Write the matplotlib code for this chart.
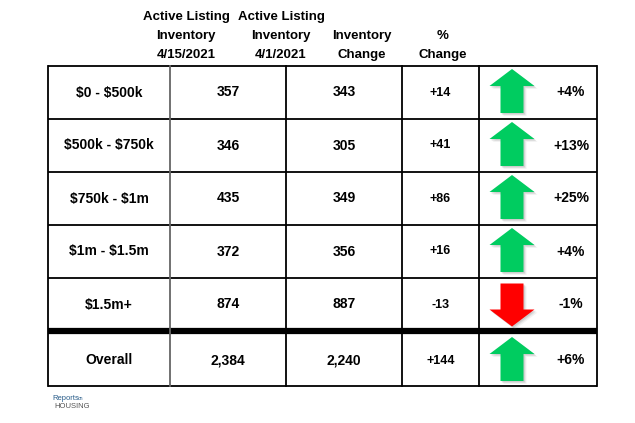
import matplotlib
matplotlib.use("Agg")
import matplotlib.pyplot as plt
from matplotlib.patches import Polygon

categories = ["$0 - $500k", "$500k - $750k", "$750k - $1m", "$1m - $1.5m", "$1.5m+", "Overall"]
inv_0415 = ["357", "346", "435", "372", "874", "2,384"]
inv_0401 = ["343", "305", "349", "356", "887", "2,240"]
inv_change = [14, 41, 86, 16, -13, 144]
pct_change = [4, 13, 25, 4, -1, 6]
headers = ["Active Listing\nInventory\n4/15/2021", "Active Listing\nInventory\n4/1/2021",
           "Inventory\nChange", "%\nChange"]

plt.rcParams['font.family'] = ['Liberation Sans', 'DejaVu Sans']
plt.rcParams['text.usetex'] = False
plt.rcParams['text.parse_math'] = False

W, H = 635, 423
fig = plt.figure(figsize=(W / 100, H / 100), dpi=100)
ax = fig.add_axes([0, 0, 1, 1])
ax.set_xlim(0, W)
ax.set_ylim(H, 0)
ax.axis('off')

col_x = [48, 170, 286, 402, 479, 597]
row_y = [66, 119, 172, 225, 278, 331, 386]

# headers
hdr_x = [186, 281, 362, 443]
for hx, h in zip(hdr_x, headers):
    lines = h.split("\n")
    ys = [17, 36, 55][3 - len(lines):]
    for yy, t in zip(ys, lines):
        ax.text(hx, yy, t, ha='center', va='center', fontsize=9.5, fontweight='bold')

# grid lines
for i, y in enumerate(row_y):
    lw = 1.3
    if i == 5:
        lw = 4.5
    ax.plot([col_x[0], col_x[-1]], [y, y], color='black', lw=lw, solid_capstyle='butt', zorder=3)
for j, x in enumerate(col_x):
    color = '#666666' if j == 1 else 'black'
    ax.plot([x, x], [row_y[0], row_y[-1]], color=color, lw=1.3, zorder=3)

green = '#00CC60'
red = '#FF0000'

def arrow(cx, cy, up, color):
    hw, sw = 22.5, 11.5
    if up:
        top, hb, bot = cy - 23.5, cy - 6.5, cy + 20.5
        pts = [(cx, top), (cx + hw, hb), (cx + sw, hb), (cx + sw, bot),
               (cx - sw, bot), (cx - sw, hb), (cx - hw, hb)]
    else:
        top, hb, bot = cy - 21, cy + 5, cy + 22
        pts = [(cx - sw, top), (cx + sw, top), (cx + sw, hb), (cx + hw, hb),
               (cx, bot), (cx - hw, hb), (cx - sw, hb)]
    for k, a in [(3, 0.10), (2, 0.15), (1.2, 0.2)]:
        sh = [(px + k, py + k) for px, py in pts]
        ax.add_patch(Polygon(sh, closed=True, facecolor='gray', edgecolor='none', alpha=a, zorder=4))
    ax.add_patch(Polygon(pts, closed=True, facecolor=color, edgecolor='none', zorder=5))

for i, cat in enumerate(categories):
    cy = (row_y[i] + row_y[i + 1]) / 2
    if i == 5:
        cy = (row_y[i] + row_y[i + 1]) / 2 + 2
    ax.text((col_x[0] + col_x[1]) / 2, cy, cat, ha='center', va='center', fontsize=10, fontweight='bold')
    ax.text((col_x[1] + col_x[2]) / 2, cy, inv_0415[i], ha='center', va='center', fontsize=10, fontweight='bold')
    ax.text((col_x[2] + col_x[3]) / 2, cy, inv_0401[i], ha='center', va='center', fontsize=10, fontweight='bold')
    ch = inv_change[i]
    ax.text((col_x[3] + col_x[4]) / 2, cy, f"{ch:+d}", ha='center', va='center', fontsize=9, fontweight='bold')
    p = pct_change[i]
    ax.text(571, cy, f"{p:+d}%", ha='center', va='center', fontsize=10, fontweight='bold')
    up = ch >= 0
    arrow(512, cy, up, green if up else red)

# logo
ax.text(52, 399, "Reports", ha='left', va='center', fontsize=5.5, color='#2a5d8a')
ax.text(78, 399, "on", ha='left', va='center', fontsize=3.5, color='#2a5d8a')
ax.text(54, 407, "HOUSING", ha='left', va='center', fontsize=5.5, color='#555555')

fig.savefig("out.png", dpi=100)
